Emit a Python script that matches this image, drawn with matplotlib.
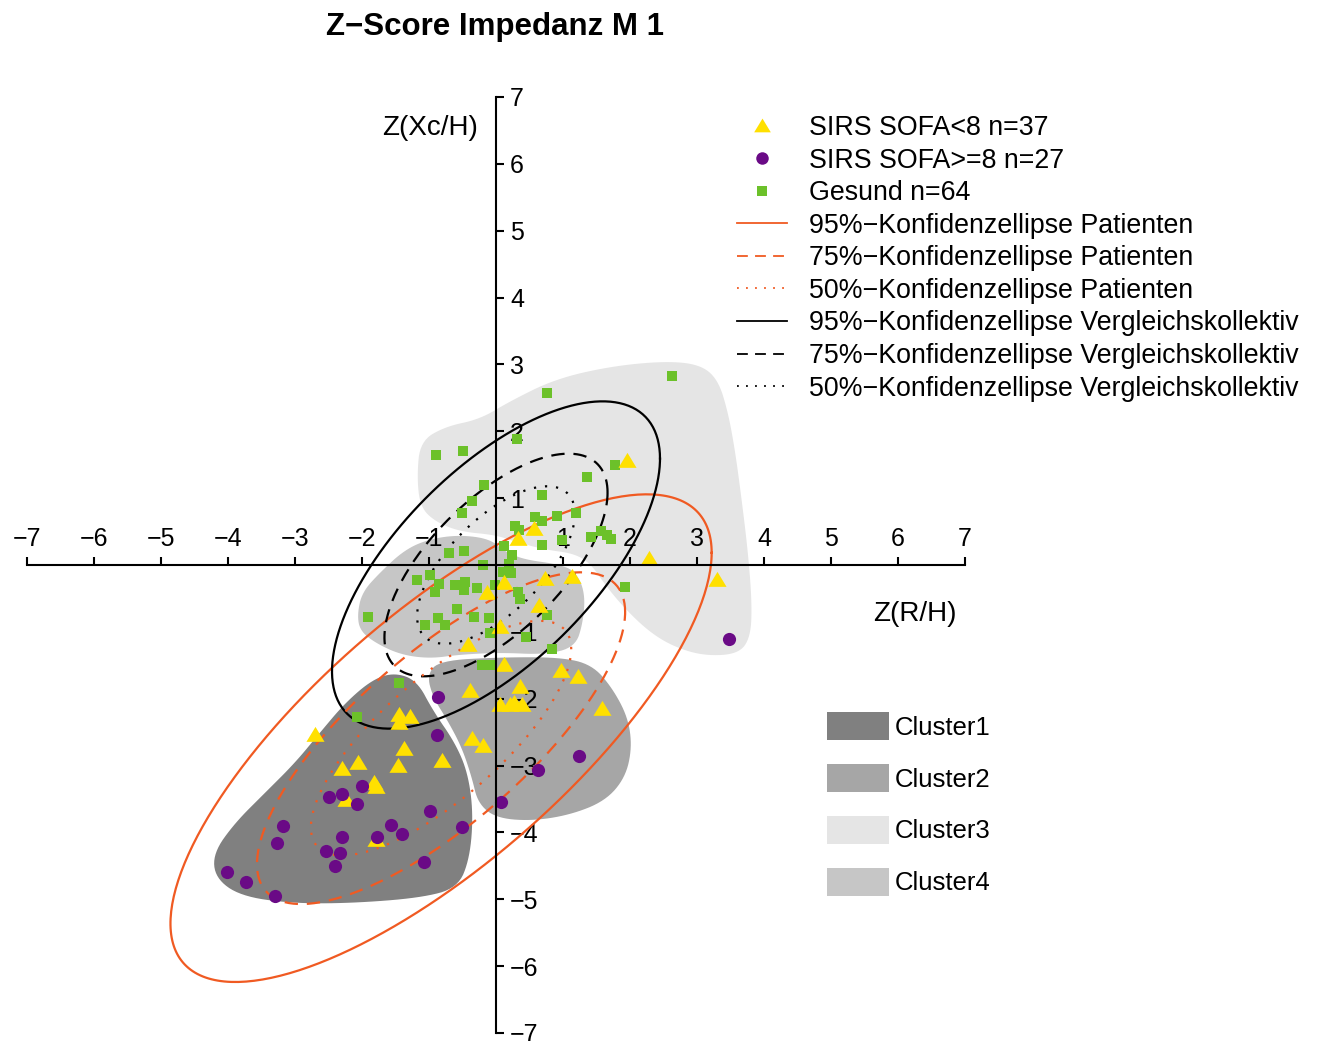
import matplotlib.pyplot as plt
import numpy as np
from matplotlib.patches import Polygon, Patch
from matplotlib.lines import Line2D

plt.rcParams['font.family'] = ['Liberation Sans', 'DejaVu Sans']

# --- points (Z(R/H), Z(Xc/H)) ---
sofa_low_x = [1.96, 0.33, 0.57, 2.28, 3.30, 0.73, 1.13, 0.12, -0.13, 0.64, 0.06, -0.42,
              0.12, 0.97, 1.22, 0.36, -0.39, 0.06, 0.21, 0.39, 1.58, -0.36, -0.19, -0.81,
              -2.70, -1.45, -1.28, -1.45, -1.37, -2.06, -2.30, -1.46, -1.82, -1.79, -2.24,
              -1.79, 0.27]
sofa_low_y = [1.56, 0.39, 0.54, 0.09, -0.23, -0.21, -0.18, -0.27, -0.42, -0.62, -0.92, -1.19,
              -1.50, -1.59, -1.67, -1.83, -1.88, -2.09, -2.09, -2.09, -2.15, -2.61, -2.70, -2.93,
              -2.55, -2.24, -2.28, -2.36, -2.75, -2.96, -3.05, -3.00, -3.26, -3.32, -3.51,
              -4.11, -2.06]

sofa_high_x = [-0.87, -0.88, -2.00, -2.49, -2.30, -2.07, -0.99, 1.24, 0.63, 0.07, -3.18, -3.27,
               -2.30, -1.78, -1.57, -1.40, -0.51, -2.54, -2.33, -2.40, -1.07, -4.01, -3.73,
               -3.30, 3.48]
sofa_high_y = [-1.97, -2.54, -3.30, -3.47, -3.42, -3.57, -3.68, -2.85, -3.06, -3.54, -3.90, -4.16,
               -4.07, -4.07, -3.89, -4.02, -3.92, -4.28, -4.31, -4.50, -4.44, -4.59, -4.74,
               -4.95, -1.10]

gesund_x = [2.63, 0.76, 0.31, -0.90, -0.49, 1.78, 1.36, -0.18, -0.36, 0.69, -0.51, 0.58,
            0.69, 0.91, 1.19, 0.28, 0.34, 0.99, 0.69, 1.42, 1.57, 1.66, 1.72, 0.12, 0.24,
            1.93, -0.70, -0.48, -0.19, -0.99, -1.18, -0.85, -0.91, -0.61, -0.46, -0.48,
            -0.28, -0.01, 0.19, 0.22, 0.33, 0.36, -0.58, -0.33, -0.10, -0.87, -0.76, -1.06,
            -1.91, 0.76, -0.09, 0.45, 0.84, -0.21, -0.09, -1.45, -2.07, 0.10]
gesund_y = [2.82, 2.57, 1.89, 1.65, 1.71, 1.50, 1.31, 1.19, 0.96, 1.04, 0.78, 0.72,
            0.66, 0.74, 0.78, 0.59, 0.53, 0.38, 0.30, 0.42, 0.51, 0.45, 0.39, 0.29, 0.15,
            -0.33, 0.18, 0.21, 0.00, -0.15, -0.23, -0.29, -0.41, -0.30, -0.26, -0.38,
            -0.35, -0.30, 0.02, -0.12, -0.41, -0.51, -0.66, -0.78, -0.80, -0.80, -0.89, -0.90,
            -0.78, -0.75, -1.01, -1.07, -1.25, -1.50, -1.50, -1.77, -2.28, -0.10]

# --- cluster outlines ---
cl1_x = [-1.84, -1.51, -1.18, -0.94, -0.61, -0.42, -0.34, -0.39, -0.57, -1.13, -2.18, -3.07,
         -3.82, -4.19, -4.22, -3.90, -3.45, -3.00, -2.63, -2.25]
cl1_y = [-1.71, -1.61, -1.73, -2.18, -2.66, -3.11, -3.71, -4.38, -4.83, -4.98, -5.06, -5.06,
         -4.95, -4.68, -4.31, -3.86, -3.41, -2.96, -2.51, -2.06]
cl2_x = [-0.84, 0.06, 0.96, 1.43, 1.73, 1.97, 2.03, 1.93, 1.63, 1.10, 0.51, -0.01, -0.27,
         -0.36, -0.51, -0.72, -0.94, -1.03]
cl2_y = [-1.43, -1.38, -1.38, -1.49, -1.83, -2.28, -2.73, -3.18, -3.53, -3.74, -3.83, -3.78,
         -3.56, -3.18, -2.73, -2.33, -1.98, -1.64]
cl3_x = [-1.13, -0.76, -0.24, 0.21, 0.88, 1.70, 2.52, 3.04, 3.31, 3.46, 3.57, 3.67, 3.76,
         3.82, 3.80, 3.62, 3.12, 2.67, 2.30, 1.93, 1.63, 1.43, 1.18, 0.73, 0.28, -0.01,
         -0.54, -0.91, -1.13, -1.18]
cl3_y = [1.85, 2.07, 2.18, 2.45, 2.78, 2.97, 3.05, 3.00, 2.78, 2.30, 1.70, 0.95, 0.20,
         -0.56, -1.08, -1.33, -1.36, -1.23, -1.01, -0.66, -0.30, 0.00, 0.17, 0.23, 0.35, 0.45,
         0.50, 0.65, 0.87, 1.32]
cl4_x = [-2.07, -2.00, -1.73, -1.36, -0.99, -0.54, -0.09, 0.13, 0.43, 0.88, 1.18, 1.33, 1.30,
         1.18, 0.73, 0.06, -0.54, -0.99, -1.43, -1.81, -2.03]
cl4_y = [-0.74, -0.41, -0.11, 0.23, 0.39, 0.45, 0.39, 0.20, 0.08, 0.02, -0.08, -0.41, -0.86,
         -1.23, -1.34, -1.31, -1.34, -1.40, -1.34, -1.16, -0.98]

# --- confidence ellipses: mean, sd, correlation ---
pat_mean = (-0.82, -2.59)
pat_sd = (1.65, 1.49)
pat_r = 0.76
ref_mean = (0.0, 0.0)
ref_sd = (1.0, 1.0)
ref_r = 0.65
levels = [0.95, 0.75, 0.50]

c_yellow = '#FFE000'
c_purple = '#6A0A86'
c_green = '#6CC12A'
c_orange = '#F05A22'


def smooth(xs, ys, n=3):
    p = np.column_stack([xs, ys])
    for _ in range(n):
        q = np.roll(p, -1, axis=0)
        p = np.stack([0.75 * p + 0.25 * q, 0.25 * p + 0.75 * q], axis=1).reshape(-1, 2)
    return p


def ellipse(mean, sd, r, level):
    cov = np.array([[sd[0] ** 2, r * sd[0] * sd[1]], [r * sd[0] * sd[1], sd[1] ** 2]])
    L = np.linalg.cholesky(cov)
    t = np.linspace(0, 2 * np.pi, 300)
    k = np.sqrt(-2 * np.log(1 - level))
    pts = L @ np.vstack([np.cos(t), np.sin(t)]) * k
    return pts[0] + mean[0], pts[1] + mean[1]


fig = plt.figure(figsize=(13.17, 10.41), dpi=100)
ax = fig.add_axes([27 / 1317, 8 / 1041, 938 / 1317, 936 / 1041])
ax.set_xlim(-7, 7)
ax.set_ylim(-7, 7)

cluster_cols = ['#808080', '#a6a6a6', '#e5e5e5', '#c6c6c6']
for (cx, cy), col in zip([(cl3_x, cl3_y), (cl4_x, cl4_y), (cl1_x, cl1_y), (cl2_x, cl2_y)],
                         [cluster_cols[2], cluster_cols[3], cluster_cols[0], cluster_cols[1]]):
    ax.add_patch(Polygon(smooth(cx, cy), closed=True, facecolor=col, edgecolor='none', zorder=1))

styles = ['-', (0, (6, 4)), (0, (1, 4))]
for lev, ls in zip(levels, styles):
    ex, ey = ellipse(pat_mean, pat_sd, pat_r, lev)
    ax.plot(ex, ey, color=c_orange, lw=1.6, ls=ls, zorder=2)
    ex, ey = ellipse(ref_mean, ref_sd, ref_r, lev)
    ax.plot(ex, ey, color='black', lw=1.6, ls=ls, zorder=2)

tri = [(-1, -0.7), (1, -0.7), (0, 0.95)]
ax.scatter(gesund_x, gesund_y, marker='s', s=56, color=c_green, lw=0, zorder=3)
ax.scatter(sofa_low_x, sofa_low_y, marker=tri, s=170, color=c_yellow, lw=0, zorder=4)
ax.scatter(sofa_high_x, sofa_high_y, marker='o', s=90, color=c_purple, lw=0, zorder=5)

# axes through origin
ax.spines['left'].set_visible(False)
ax.spines['bottom'].set_visible(False)
ax.spines['top'].set_position(('data', 0))
ax.spines['right'].set_position(('data', 0))
for s in ['top', 'right']:
    ax.spines[s].set_linewidth(1.5)
    ax.spines[s].set_zorder(6)
ax.xaxis.tick_top()
ax.yaxis.tick_right()
ticks = [-7, -6, -5, -4, -3, -2, -1, 1, 2, 3, 4, 5, 6, 7]
ax.set_xticks(ticks)
ax.set_yticks(ticks)
ax.tick_params(direction='out', length=6, width=1.5, labelsize=18, pad=4)
ax.set_facecolor('none')

ax.text(-0.99, 6.53, 'Z(Xc/H)', fontsize=20, ha='center', va='center')
ax.text(6.25, -0.74, 'Z(R/H)', fontsize=20, ha='center', va='center')
fig.text(495 / 1317, 1 - 27 / 1041, 'Z\u2212Score Impedanz M 1', fontsize=22.5, fontweight='bold',
         ha='center', va='center')

h1 = [Line2D([], [], ls='none', marker=tri, ms=12, color=c_yellow, mew=0),
      Line2D([], [], ls='none', marker='o', ms=9, color=c_purple, mew=0),
      Line2D([], [], ls='none', marker='s', ms=7.5, color=c_green, mew=0)]
lab1 = ['SIRS SOFA<8 n=37', 'SIRS SOFA>=8 n=27', 'Gesund n=64']
for who, col in [('Patienten', c_orange), ('Vergleichskollektiv', 'black')]:
    for lev, ls in zip(levels, styles):
        h1.append(Line2D([], [], color=col, lw=1.3, ls=ls))
        lab1.append(f'{int(lev * 100)}%\u2212Konfidenzellipse {who}')
fig.legend(h1, lab1, loc='upper left', bbox_to_anchor=(737 / 1317, 1 - 115 / 1041),
           frameon=False, fontsize=19.3, handlelength=1.85, handletextpad=0.85,
           labelspacing=0.245, borderpad=0, borderaxespad=0)

h2 = [Patch(facecolor=c, edgecolor='none') for c in cluster_cols]
lab2 = ['Cluster1', 'Cluster2', 'Cluster3', 'Cluster4']
fig.legend(h2, lab2, loc='upper left', bbox_to_anchor=(827 / 1317, 1 - 712 / 1041),
           frameon=False, fontsize=18.5, handlelength=2.4, handleheight=1.3,
           handletextpad=0.24, labelspacing=0.93, borderpad=0, borderaxespad=0)

fig.savefig('out.png', dpi=100)
